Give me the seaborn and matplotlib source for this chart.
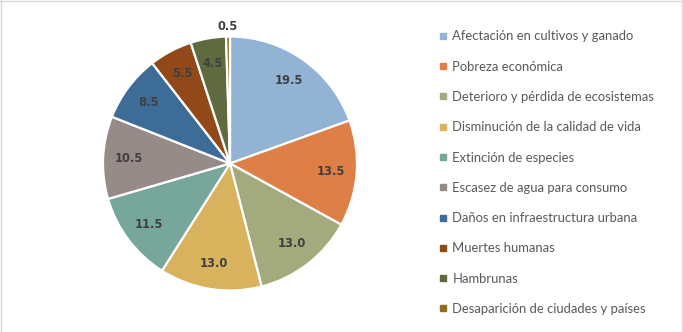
import numpy as np
import matplotlib
matplotlib.use("Agg")
import matplotlib.pyplot as plt
import seaborn as sns
from matplotlib.lines import Line2D

categories = [
    "Afectación en cultivos y ganado",
    "Pobreza económica",
    "Deterioro y pérdida de ecosistemas",
    "Disminución de la calidad de vida",
    "Extinción de especies",
    "Escasez de agua para consumo",
    "Daños en infraestructura urbana",
    "Muertes humanas",
    "Hambrunas",
    "Desaparición de ciudades y países",
]
values = [19.5, 13.5, 13.0, 13.0, 11.5, 10.5, 8.5, 5.5, 4.5, 0.5]
value_labels = ["19.5", "13.5", "13.0", "13.0", "11.5", "10.5", "8.5", "5.5", "4.5", "0.5"]
colors = ["#93B3D4", "#DD7F47", "#A3AA7E", "#D8B25C", "#77A69A",
          "#978B8A", "#3D6D97", "#924919", "#5F6A40", "#8C6D22"]

sns.set_theme(style="white")
plt.rcParams["font.family"] = ["Lato", "DejaVu Sans"]
palette = sns.color_palette(colors)

W, H = 683, 332
fig = plt.figure(figsize=(W / 100, H / 100), dpi=100)
cx, cy, r = 230, 163.5, 127
ax = fig.add_axes([(cx - r) / W, (H - cy - r) / H, 2 * r / W, 2 * r / H])

wedges, _ = ax.pie(values, colors=palette, startangle=90, counterclock=False,
                   radius=1.0,
                   wedgeprops=dict(edgecolor="white", linewidth=1.6))
ax.set_xlim(-1, 1)
ax.set_ylim(-1, 1)
ax.set_aspect("equal")
ax.axis("off")

for w, lab, v in zip(wedges, value_labels, values):
    ang = np.deg2rad((w.theta1 + w.theta2) / 2)
    d = 1.08 if v < 2 else 0.8
    ax.text(d * np.cos(ang), d * np.sin(ang), lab, ha="center", va="center",
            fontsize=8.3, fontweight="bold", color="#404040",
            family=["DejaVu Sans"])

handles = [Line2D([0], [0], marker="s", linestyle="none", markersize=4.5,
                  markerfacecolor=c, markeredgecolor=c) for c in palette]
leg = fig.legend(handles, categories, loc="upper left",
                 bbox_to_anchor=(439 / W, 1 - 30.5 / H), frameon=False,
                 fontsize=9.4, labelspacing=1.40, handlelength=0.6,
                 handletextpad=0.42, borderpad=0, borderaxespad=0)
for t in leg.get_texts():
    t.set_color("#595959")

# light chart-area border (left, top, right)
bc = "#D9D9D9"
fig.add_artist(Line2D([0.5 / W, 0.5 / W], [0, 1], color=bc, lw=1, transform=fig.transFigure))
fig.add_artist(Line2D([0, 682 / W], [1 - 0.5 / H, 1 - 0.5 / H], color=bc, lw=1, transform=fig.transFigure))
fig.add_artist(Line2D([681.5 / W, 681.5 / W], [0, 1], color=bc, lw=1, transform=fig.transFigure))

fig.savefig("out.png", dpi=100, facecolor="white")
